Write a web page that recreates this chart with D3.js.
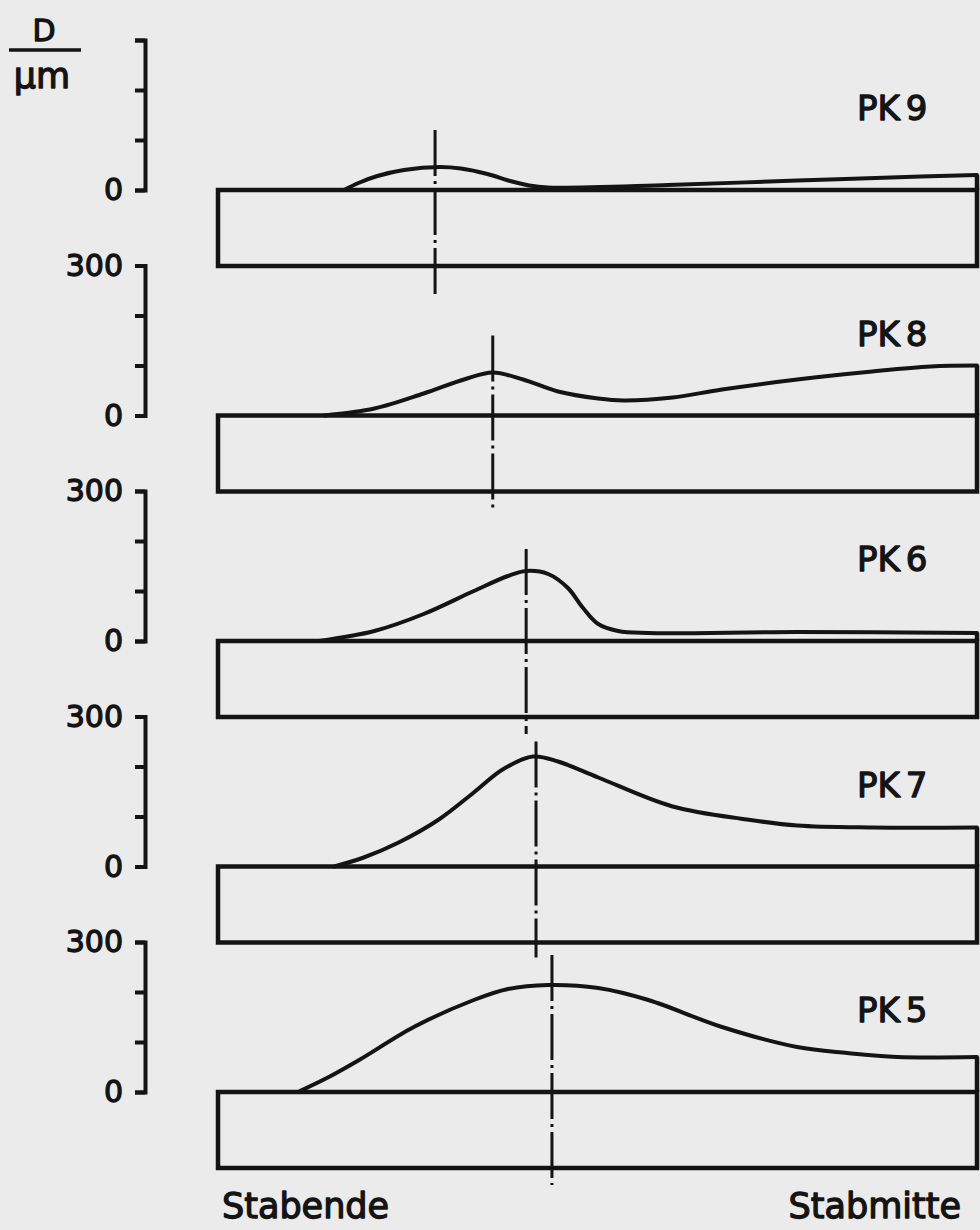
<!DOCTYPE html>
<html>
<head>
<meta charset="utf-8">
<script src="https://cdn.jsdelivr.net/npm/d3@7"></script>
<style>
  body { margin: 0; background: #ebebeb; }
  svg { display: block; }
</style>
</head>
<body>
<div id="chart"></div>
<script>
// panels from top to bottom
const panelNames = ["PK9", "PK8", "PK6", "PK7", "PK5"];

// position along the bar (0 = Stabende, 100 = Stabmitte) and D in µm
const pk9Pos = [16.6, 18.5, 21, 24.5, 29.2, 32, 35.5, 38.5, 41, 43.5, 59.3, 76.3, 92.6, 100];
const pk9D   = [0, 14, 28, 40, 46, 43, 32, 18, 9, 5, 10, 19, 27, 30];

const pk8Pos = [14, 20.6, 27.1, 32.4, 36.2, 40.2, 44.8, 50.1, 53.4, 59.9, 66.4, 76.3, 86.2, 93.9, 100];
const pk8D   = [0, 14, 44, 72, 86, 72, 48, 34, 30, 36, 52, 72, 88, 98, 100];

const pk6Pos = [13.3, 20.6, 27.1, 33.7, 38.2, 40.6, 43.5, 46.1, 48.1, 50.1, 52.7, 56.7, 76.3, 100];
const pk6D   = [0, 20, 54, 100, 130, 140, 134, 106, 66, 34, 20, 16, 18, 16];

const pk7Pos = [15.3, 19.2, 23.8, 29.1, 33.7, 37.5, 41.5, 44.8, 50.1, 59.9, 69.7, 76.3, 86.2, 100];
const pk7D   = [0, 18, 48, 94, 148, 194, 220, 210, 178, 120, 94, 82, 78, 78];

const pk5Pos = [10.8, 14.6, 18.6, 25.8, 33.7, 38.2, 43.5, 50.1, 56.7, 66.4, 76.3, 82.9, 89.5, 100];
const pk5D   = [2, 30, 64, 130, 184, 206, 214, 208, 184, 130, 90, 78, 70, 70];

const panelPos = [pk9Pos, pk8Pos, pk6Pos, pk7Pos, pk5Pos];
const panelD = [pk9D, pk8D, pk6D, pk7D, pk5D];

// position of the dash-dot centre line (maximum) per panel
const peakPos = [28.6, 36.2, 40.6, 41.9, 44.0];
// extent of the centre line, in µm above and below the zero line
const centerTop = [120, 160, 184, 250, 274];
const centerBottom = [-214, -194, -186, -182, -186];

const yTicks = [0, 100, 200, 300];
const xLabels = ["Stabende", "Stabmitte"];

const width = 980, height = 1230;
const ink = "#141414";
const font = "'DejaVu Sans', sans-serif";

const svg = d3.select("#chart")
    .append("svg")
    .attr("width", width)
    .attr("height", height);

const x = d3.scaleLinear().domain([0, 100]).range([218, 977]);
const y = d3.scaleLinear().domain([0, 300]).range([0, -150]);

const line = d3.line()
    .x(d => x(d[0]))
    .y(d => y(d[1]))
    .curve(d3.curveCatmullRom.alpha(0.5));

const barDepth = 76;

// text with a little outline so it looks as heavy as the lettering
function label(sel, size) {
    return sel.attr("fill", ink)
        .attr("stroke", ink)
        .attr("stroke-width", 1.3)
        .attr("stroke-linejoin", "round")
        .style("font", `${size}px ${font}`);
}

panelNames.forEach((name, i) => {
    const zero = 190 + i * 225.5;
    const g = svg.append("g").attr("transform", `translate(0, ${zero})`);

    // y axis
    const ax = g.append("g")
        .attr("transform", "translate(145, 0)")
        .call(d3.axisLeft(y)
            .tickValues(yTicks)
            .tickSize(10)
            .tickSizeOuter(10)
            .tickPadding(12)
            .tickFormat(d => (d === 0 || (d === 300 && i > 0)) ? d : ""));
    ax.select(".domain").attr("stroke", ink).attr("stroke-width", 4);
    ax.selectAll(".tick line").attr("stroke", ink).attr("stroke-width", 4);
    label(ax.selectAll(".tick text"), 30);

    // the bar
    g.append("rect")
        .attr("x", x(0))
        .attr("y", 0)
        .attr("width", x(100) - x(0))
        .attr("height", barDepth)
        .attr("fill", "none")
        .attr("stroke", ink)
        .attr("stroke-width", 4.5);

    // deflection curve
    const pts = panelPos[i].map((p, j) => [p, panelD[i][j]]);
    g.append("path")
        .attr("d", line(pts))
        .attr("fill", "none")
        .attr("stroke", ink)
        .attr("stroke-width", 4)
        .attr("stroke-linecap", "round");

    // close the profile at the right edge
    g.append("line")
        .attr("x1", x(100)).attr("x2", x(100))
        .attr("y1", y(pts[pts.length - 1][1]))
        .attr("y2", y(0))
        .attr("stroke", ink)
        .attr("stroke-width", 4.5);

    // dash-dot centre line
    g.append("line")
        .attr("x1", x(peakPos[i])).attr("x2", x(peakPos[i]))
        .attr("y1", y(centerTop[i]))
        .attr("y2", y(centerBottom[i]))
        .attr("stroke", ink)
        .attr("stroke-width", 3)
        .attr("stroke-dasharray", "46,5,3,5");

    // panel name
    const t = label(g.append("text"), 34)
        .attr("x", 857)
        .attr("y", -70)
        .text(name.slice(0, 2));
    t.append("tspan").attr("dx", 6).text(name.slice(2));
});

// axis unit D / µm
label(svg.append("text"), 30)
    .attr("x", 44).attr("y", 41)
    .attr("text-anchor", "middle")
    .text("D");
svg.append("line")
    .attr("x1", 9).attr("x2", 81)
    .attr("y1", 50).attr("y2", 50)
    .attr("stroke", ink).attr("stroke-width", 3.5);
label(svg.append("text"), 35)
    .attr("x", 42).attr("y", 88)
    .attr("text-anchor", "middle")
    .text("µm");

// bar ends
label(svg.append("text"), 35)
    .attr("x", 222).attr("y", 1218)
    .text(xLabels[0]);
label(svg.append("text"), 35)
    .attr("x", 961).attr("y", 1218)
    .attr("text-anchor", "end")
    .text(xLabels[1]);
</script>
</body>
</html>
